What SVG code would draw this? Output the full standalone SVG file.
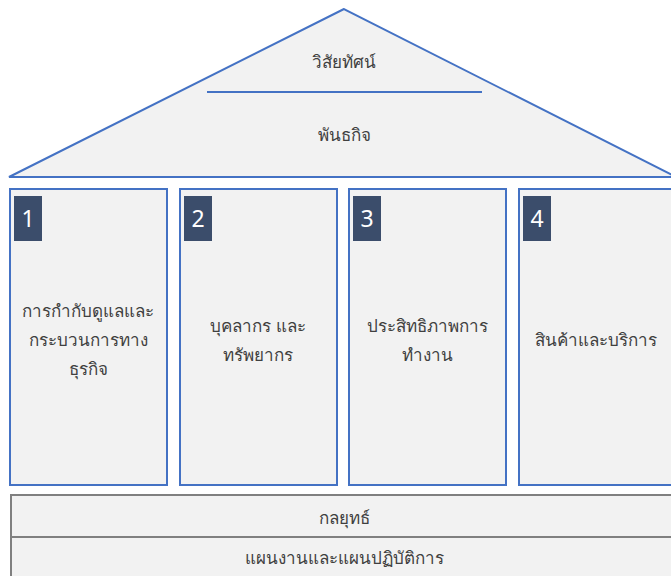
<svg xmlns="http://www.w3.org/2000/svg" width="671" height="576" viewBox="0 0 671 576">
<style>
.txt{font-family:"Noto Sans","DejaVu Sans",sans-serif;font-size:17px;fill:#404040;text-anchor:middle;dominant-baseline:central}
.pillar{fill:#F2F2F2;stroke:#4472C4;stroke-width:2}
.badge{fill:#3B4D6B}
.num{font-family:"Noto Sans","DejaVu Sans",sans-serif;font-size:23px;fill:#FFFFFF;text-anchor:middle;dominant-baseline:central}
.band{fill:#F2F2F2;stroke:#808080;stroke-width:2}
</style>
<rect width="671" height="576" fill="#FFFFFF"/>
<g id="roof">
<polygon points="344,9 9,177 676,177" fill="#F2F2F2" stroke="#4472C4" stroke-width="2" stroke-linejoin="miter"/>
<line x1="207" y1="92" x2="482" y2="92" stroke="#4472C4" stroke-width="2"/>
<text class="txt" x="344" y="61" font-size="18">วิสัยทัศน์</text>
<text class="txt" x="344" y="134" font-size="18">พันธกิจ</text>
</g>
<g id="pillar1">
<rect class="pillar" x="10" y="189" width="157" height="296"/>
<rect class="badge" x="14" y="196" width="28" height="45"/>
<text class="num" x="28" y="218">1</text>
<text class="txt" x="88" y="310" font-size="16">การกำกับดูแลและ</text>
<text class="txt" x="88" y="339" font-size="16">กระบวนการทาง</text>
<text class="txt" x="88" y="368" font-size="16">ธุรกิจ</text>
</g>
<g id="pillar2">
<rect class="pillar" x="180" y="189" width="157" height="296"/>
<rect class="badge" x="184" y="196" width="28" height="45"/>
<text class="num" x="198" y="218">2</text>
<text class="txt" x="258" y="325">บุคลากร และ</text>
<text class="txt" x="258" y="354">ทรัพยากร</text>
</g>
<g id="pillar3">
<rect class="pillar" x="349" y="189" width="157" height="296"/>
<rect class="badge" x="353" y="196" width="28" height="45"/>
<text class="num" x="367" y="218">3</text>
<text class="txt" x="427" y="325">ประสิทธิภาพการ</text>
<text class="txt" x="427" y="354">ทำงาน</text>
</g>
<g id="pillar4">
<rect class="pillar" x="519" y="189" width="160" height="296"/>
<rect class="badge" x="523" y="196" width="28" height="45"/>
<text class="num" x="537" y="218">4</text>
<text class="txt" x="596" y="339">สินค้าและบริการ</text>
</g>
<g id="strategy">
<rect class="band" x="11" y="495" width="670" height="42"/>
<text class="txt" x="344" y="517" font-size="18">กลยุทธ์</text>
</g>
<g id="plans">
<rect class="band" x="11" y="537" width="670" height="45"/>
<text class="txt" x="344" y="557">แผนงานและแผนปฏิบัติการ</text>
</g>
<g id="connectors"></g>
</svg>
